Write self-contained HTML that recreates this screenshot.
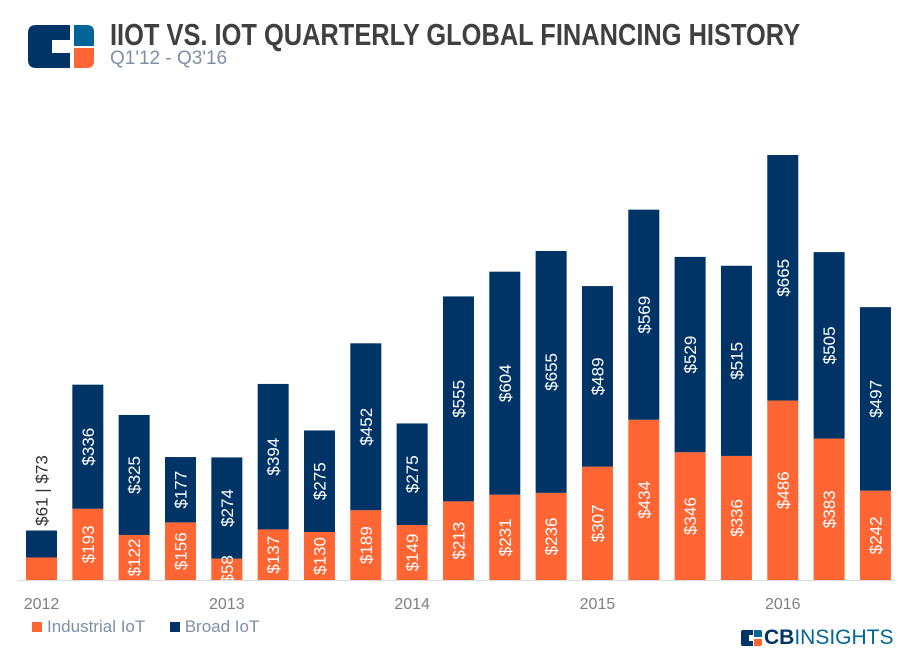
<!DOCTYPE html>
<html><head><meta charset="utf-8"><style>
body{margin:0;background:#fff;width:909px;height:659px;overflow:hidden;font-family:"Liberation Sans",sans-serif;position:relative}
#title{position:absolute;left:110px;top:17px;font-weight:bold;font-size:31px;color:#404040;white-space:nowrap;transform-origin:0 0;transform:scaleX(0.82)}
#sub{position:absolute;left:110px;top:48px;font-size:19px;color:#7f8fa8;white-space:nowrap}
</style></head><body>
<svg width="100" height="80" style="position:absolute;left:0;top:0">
<path d="M36,25 H70 V40 H52 V53 H70 V68 H36 Q28,68 28,60 V33 Q28,25 36,25Z" fill="#003466"/>
<path d="M74,25 H87 Q94,25 94,32 V46 H74Z" fill="#006699"/>
<path d="M74,48 H94 V61 Q94,68 87,68 H74Z" fill="#ff6633"/>
</svg>
<div id="title">IIOT VS. IOT QUARTERLY GLOBAL FINANCING HISTORY</div>
<div id="sub">Q1'12 - Q3'16</div>
<svg id="chart" width="909" height="659" style="position:absolute;left:0;top:0"></svg>
<script>
const quarters=["Q1'12","Q2'12","Q3'12","Q4'12","Q1'13","Q2'13","Q3'13","Q4'13","Q1'14","Q2'14","Q3'14","Q4'14","Q1'15","Q2'15","Q3'15","Q4'15","Q1'16","Q2'16","Q3'16"];
const industrial=[61,193,122,156,58,137,130,189,149,213,231,236,307,434,346,336,486,383,242];
const broad=[73,336,325,177,274,394,275,452,275,555,604,655,489,569,529,515,665,505,497];
const yearLabels=["2012","2013","2014","2015","2016"];
const NS="http://www.w3.org/2000/svg";
const svg=document.getElementById('chart');
const base=580, k=425/1151, x0=26, step=46.33, bw=31;
const xs=i=>x0+i*step;
const ys=v=>base-v*k;
function mk(t,a,p){const e=document.createElementNS(NS,t);for(const n in a)e.setAttribute(n,a[n]);(p||svg).appendChild(e);return e;}
const ax=mk('line',{x1:18,x2:895,y1:base+0.5,y2:base+0.5,stroke:'#dcdcdc','stroke-width':1});


function lab(txt,cx,cy,fill,nm){const t=mk('text',{x:0,y:6,transform:`translate(${cx},${cy}) rotate(-90)`,'text-anchor':'middle','font-size':17,fill:fill,'font-family':'Liberation Sans, sans-serif'});t.textContent=txt;return t;}
quarters.forEach((q,i)=>{
 const x=xs(i),yi=ys(industrial[i]),yt=ys(industrial[i]+broad[i]);
 const r1=mk('rect',{x:x,y:yi,width:bw,height:base-yi,fill:'#ff6633'});
 
 
 const r2=mk('rect',{x:x,y:yt,width:bw,height:yi-yt,fill:'#003466'});
 
 
 if(industrial[i]+broad[i]>200){
  lab('$'+industrial[i],x+bw/2,(yi+base)/2,'#fff','value-industrial-'+i);
  lab('$'+broad[i],x+bw/2,(yi+yt)/2,'#fff','value-broad-'+i);
 }else{
  lab('$'+industrial[i]+' | $'+broad[i],x+bw/2,yt-40,'#333','value-small-'+i);
 }
});
yearLabels.forEach((y,j)=>{
 const t=mk('text',{x:xs(j*4)+bw/2,y:609,'text-anchor':'middle','font-size':16,fill:'#7f7f7f'});t.textContent=y;
 
 
});
</script>
<div style="position:absolute;left:32px;top:617px;font-size:17px;color:#7f8fa8;white-space:nowrap">
<span><span style="display:inline-block;width:10px;height:10px;background:#ff6633;margin-right:5px"></span>Industrial IoT</span>
<span style="margin-left:20px"><span style="display:inline-block;width:10px;height:10px;background:#003466;margin-right:5px"></span>Broad IoT</span>
</div>
<div style="position:absolute;left:740px;top:626px;white-space:nowrap">
<svg width="24" height="20" style="vertical-align:middle"><path d="M3,2 H13 V7 H9 V13 H13 V18 H3 Q1,18 1,16 V4 Q1,2 3,2Z" fill="#003466"/><path d="M14,2 H20 Q22,2 22,4 V9 H14Z" fill="#006699"/><path d="M14,11 H22 V16 Q22,18 20,18 H14Z" fill="#ff6633"/></svg><span style="font-size:21px;font-weight:bold;color:#003466;vertical-align:middle">CB</span><span style="font-size:21px;color:#006699;vertical-align:middle">INSIGHTS</span>
</div>
</body></html>
